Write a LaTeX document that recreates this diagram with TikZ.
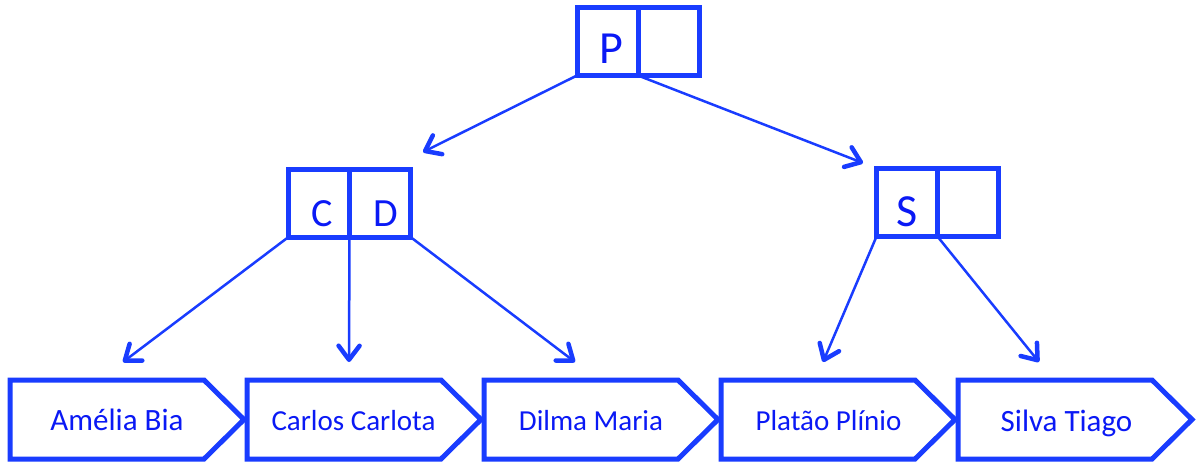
\documentclass[tikz,border=0pt]{standalone}
\usepackage{fontspec}
\setmainfont{Carlito}
\usetikzlibrary{arrows.meta}
\definecolor{treeblue}{RGB}{25,60,255}
\definecolor{inkblue}{RGB}{10,25,245}
\begin{document}
\begin{tikzpicture}[x=1pt,y=-1pt,
  cell/.style={draw=treeblue,fill=white,line width=5pt,minimum width=61pt,minimum height=68pt,inner sep=0pt,outer sep=0pt},
  key/.style={text=inkblue,anchor=base,inner sep=0pt},
  bigkey/.style={key,font=\fontsize{46}{50}\selectfont},
  midkey/.style={key,font=\fontsize{40}{44}\selectfont},
  leaf/.style={draw=treeblue,fill=white,line width=5pt},
  label text/.style={text=inkblue,anchor=base,inner sep=0pt},
  bigname/.style={label text,font=\fontsize{31}{36}\selectfont},
  smallname/.style={label text,font=\fontsize{29}{34}\selectfont},
  link/.style={draw=treeblue,line width=2.5pt,-{Straight Barb[length=14pt,width=21pt,line width=4.5pt,round]}},
]
\useasboundingbox (0,0) rectangle (1197,464);

% leaf records
\foreach \L in {10,247,484,721,958}
  \draw[leaf] (\L,380) -- ++(194,0) -- ++(40,39.5) -- ++(-40,39.5) -- ++(-194,0) -- cycle;
\node[bigname]   (amelia) at (117,430.5)  {Amélia Bia};
\node[smallname] (carlos) at (353.5,430)  {Carlos Carlota};
\node[smallname] (dilma)  at (591,430)    {Dilma Maria};
\node[smallname] (platao) at (828.5,430)  {Platão Plínio};
\node[bigname]   (silva)  at (1066.5,431) {Silva Tiago};

% index cells
\node[cell] (p1) at (607.5,41.5) {};
\node[cell] (p2) at (668.5,41.5) {};
\node[cell] (c1) at (319,203) {};
\node[cell] (c2) at (380,203) {};
\node[cell] (s1) at (907,202.5) {};
\node[cell] (s2) at (968,202.5) {};

\node[bigkey] (pkey) at (611.5,63.3) {P};
\node[midkey] (ckey) at (322.5,226) {C};
\node[midkey] (dkey) at (385.5,226) {D};
\node[bigkey] (skey) at (907,226) {S};

% arrow ends
\coordinate (tC) at (423,152);
\coordinate (tS) at (863,163);
\coordinate (t1) at (123,362);
\coordinate (t2) at (349,362);
\coordinate (t3) at (575,362);
\coordinate (t4) at (823,362);
\coordinate (t5) at (1039,362);

\draw[link] (p1.south west) -- (tC);
\draw[link] (p1.south east) -- (tS);
\draw[link] (c1.south west) -- (t1);
\draw[link] (c1.south east) -- (t2);
\draw[link] (c2.south east) -- (t3);
\draw[link] (s1.south west) -- (t4);
\draw[link] (s1.south east) -- (t5);
\end{tikzpicture}
\end{document}
